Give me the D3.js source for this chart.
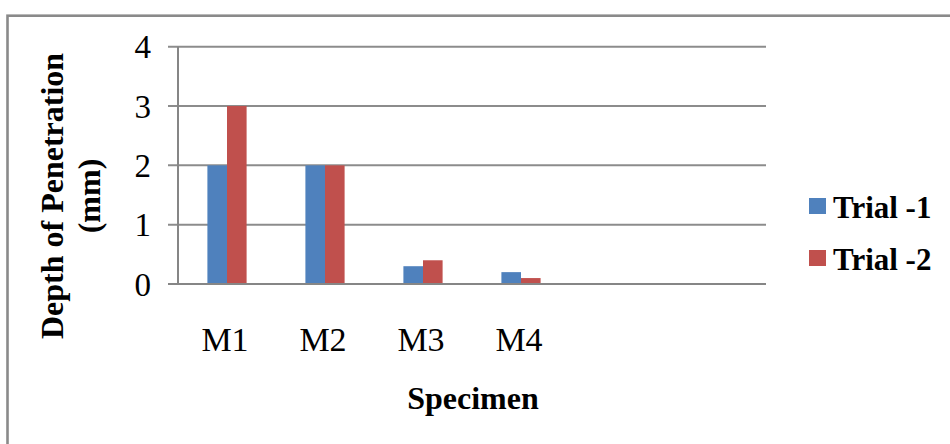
<!DOCTYPE html>
<html>
<head>
<meta charset="utf-8">
<script src="https://cdn.jsdelivr.net/npm/d3@7"></script>
<style>
  html, body { margin: 0; padding: 0; background: #fff; }
  svg { display: block; }
  text { font-family: "Liberation Serif", "Times New Roman", serif; fill: #000; }
</style>
</head>
<body>
<script>
// ---- data ----
const categories = ["M1", "M2", "M3", "M4", "", " "];
const seriesNames = ["Trial -1", "Trial -2"];
const trial1 = [2, 2, 0.3, 0.2];
const trial2 = [3, 2, 0.4, 0.1];
const yTicks = [0, 1, 2, 3, 4];
const colors = ["#4F81BD", "#C0504D"];
const yTitleLines = ["Depth of Penetration", "(mm)"];
const xTitle = "Specimen";

const W = 950, H = 444;
const svg = d3.select("body").append("svg").attr("width", W).attr("height", H);

// outer border
svg.append("rect")
  .attr("x", 7.5).attr("y", 15.7)
  .attr("width", W + 20).attr("height", H + 20)
  .attr("fill", "none").attr("stroke", "#8a8a8a").attr("stroke-width", 2.6);

const plot = { left: 178, right: 766, top: 46.7, bottom: 284 };

const x = d3.scaleBand().domain(categories).range([plot.left, plot.right]).padding(0);
const y = d3.scaleLinear().domain([0, 4]).range([plot.bottom, plot.top]);
const barW = x.bandwidth() / 5;
const x1 = d3.scaleBand().domain(seriesNames).range([0, barW * 2]);

// gridlines (with tick extension)
svg.append("g").selectAll("line").data(yTicks).join("line")
  .attr("x1", plot.left - 10).attr("x2", plot.right)
  .attr("y1", d => y(d)).attr("y2", d => y(d))
  .attr("stroke", "#8c8c8c").attr("stroke-width", 2);

// bars
const data = seriesNames.map((s, i) => ({ name: s, values: i === 0 ? trial1 : trial2, color: colors[i] }));
data.forEach(s => {
  svg.append("g").selectAll("rect").data(s.values).join("rect")
    .attr("x", (d, j) => x(categories[j]) + x.bandwidth() / 2 - barW + x1(s.name))
    .attr("width", x1.bandwidth())
    .attr("y", d => y(d))
    .attr("height", d => y(0) - y(d))
    .attr("fill", s.color);
});

// y axis line
svg.append("line")
  .attr("x1", plot.left).attr("x2", plot.left)
  .attr("y1", plot.top).attr("y2", plot.bottom)
  .attr("stroke", "#868686").attr("stroke-width", 2);
// x axis line
svg.append("line")
  .attr("x1", plot.left - 10).attr("x2", plot.right)
  .attr("y1", plot.bottom).attr("y2", plot.bottom)
  .attr("stroke", "#868686").attr("stroke-width", 2);

// y tick labels
svg.append("g").selectAll("text").data(yTicks).join("text")
  .attr("x", 151).attr("y", d => y(d) + 11.5)
  .attr("text-anchor", "end")
  .attr("font-size", 33)
  .text(d => d);

// x tick labels
svg.append("g").selectAll("text").data(categories).join("text")
  .attr("x", d => x(d) + x.bandwidth() / 2 - 2)
  .attr("y", 351)
  .attr("text-anchor", "middle")
  .attr("font-size", 34)
  .text(d => d.trim());

// x title
svg.append("text")
  .attr("x", 473).attr("y", 409)
  .attr("text-anchor", "middle")
  .attr("font-size", 32).attr("font-weight", "bold")
  .text(xTitle);

// y title
const yt = svg.append("text")
  .attr("transform", "translate(63,196) rotate(-90)")
  .attr("text-anchor", "middle")
  .attr("font-size", 32).attr("font-weight", "bold");
yTitleLines.forEach((t, i) => {
  yt.append("tspan").attr("x", 0).attr("dy", i === 0 ? 0 : 37).text(t);
});

// legend
const lg = svg.append("g").selectAll("g").data(data).join("g")
  .attr("transform", (d, i) => `translate(809,${198 + i * 52})`);
lg.append("rect").attr("width", 17).attr("height", 16).attr("fill", d => d.color);
lg.append("text").attr("x", 24).attr("y", 20)
  .attr("font-size", 31).attr("font-weight", "bold")
  .text(d => d.name);
</script>
</body>
</html>
